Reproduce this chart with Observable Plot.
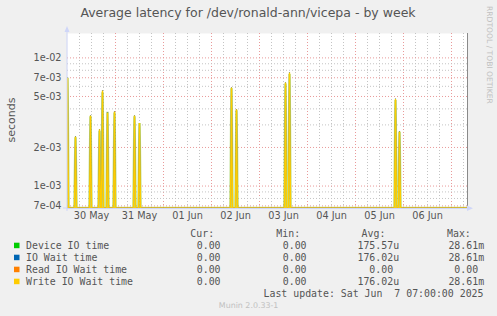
<!DOCTYPE html>
<html><head><meta charset="utf-8">
<script src="https://cdn.jsdelivr.net/npm/d3@7"></script>
<script src="https://cdn.jsdelivr.net/npm/@observablehq/plot@0.6"></script>
<style>
html,body{margin:0;padding:0;background:#f0f0f0;}
#chart{width:497px;height:316px;}
</style></head><body><div id="chart"></div>
<script>
// ---- data ----
const startTime = Date.UTC(2025, 4, 30, 0, 0);
const endTime = Date.UTC(2025, 5, 7, 8, 0);
const spikeHours = [0, 4, 11.5, 16, 17.5, 20, 23.5, 33.5, 36, 82, 84.5, 109, 111, 164, 166];
const deviceIO  = [7.0e-3, 2.40e-3, 3.50e-3, 2.70e-3, 5.40e-3, 3.80e-3, 3.75e-3, 3.50e-3, 3.10e-3, 5.80e-3, 3.90e-3, 6.30e-3, 7.50e-3, 4.70e-3, 2.65e-3];
const ioWait    = [7.0e-3, 2.44e-3, 3.55e-3, 2.77e-3, 5.56e-3, 3.75e-3, 3.82e-3, 3.55e-3, 3.10e-3, 5.87e-3, 3.98e-3, 6.42e-3, 7.69e-3, 4.80e-3, 2.67e-3];
const readWait  = [0, 0, 0, 0, 0, 0, 0, 0, 0, 0, 0, 0, 0, 0, 0];
const writeWait = [7.0e-3, 2.44e-3, 3.55e-3, 2.77e-3, 5.56e-3, 3.75e-3, 3.82e-3, 3.55e-3, 3.10e-3, 5.87e-3, 3.98e-3, 6.42e-3, 7.69e-3, 4.80e-3, 2.67e-3];

const majorY = [7e-4, 1e-3, 2e-3, 5e-3, 7e-3, 1e-2];
const minorY = [8e-4, 9e-4, 3e-3, 4e-3, 6e-3, 8e-3, 9e-3];

const legendNames  = ["Device IO time", "IO Wait time", "Read IO Wait time", "Write IO Wait time"];
const legendColors = ["#00cc00", "#0066b3", "#ff8000", "#ffcc00"];
const curVals = ["0.00 ", "0.00 ", "0.00 ", "0.00 "];
const minVals = ["0.00 ", "0.00 ", "0.00 ", "0.00 "];
const avgVals = ["175.57u", "176.02u", "0.00 ", "176.02u"];
const maxVals = ["28.61m", "28.61m", "0.00 ", "28.61m"];
const headers = ["Cur:", "Min:", "Avg:", "Max:"];
const titleText = "Average latency for /dev/ronald-ann/vicepa - by week";
const lastUpdate = "Last update: Sat Jun  7 07:00:00 2025";

// ---- build ----
const HOUR = 3600e3;
const yMin = 6.68e-4, yMax = 1.55e-2, floorV = 6.72e-4;
function toPts(vals) {
  const pts = [{t: new Date(startTime - 2 * HOUR), v: 0}];
  spikeHours.forEach((h, i) => {
    pts.push({t: new Date(startTime + (h - 0.5) * HOUR), v: 0});
    pts.push({t: new Date(startTime + h * HOUR), v: vals[i]});
    pts.push({t: new Date(startTime + (h + 0.5) * HOUR), v: 0});
  });
  pts.push({t: new Date(endTime + 2 * HOUR), v: 0});
  return pts;
}
const yAcc = d => Math.max(d.v, floorV);
const fmtExp = v => { const [m, e] = v.toExponential(0).split("e"); const n = +e; return m + "e" + (n < 0 ? "-" : "+") + String(Math.abs(n)).padStart(2, "0"); };

const minorX = d3.utcHour.every(6).range(new Date(startTime + 1), new Date(endTime)).filter(d => d.getUTCHours() !== 0);
const majorX = d3.utcDay.range(new Date(startTime + 1), new Date(endTime));
const labelX = d3.utcDay.range(new Date(startTime), new Date(endTime)).map(d => new Date(+d + 12 * HOUR)).filter(d => +d < endTime);

const lineOpts = (stroke, w, op) => ({x: "t", y: yAcc, stroke, strokeWidth: w, strokeOpacity: op, clip: true, strokeLinejoin: "miter", strokeMiterlimit: 1});

const svg = Plot.plot({
  width: 497, height: 316,
  marginTop: 33, marginBottom: 108, marginLeft: 67, marginRight: 30,
  style: {background: "transparent", fontFamily: "'DejaVu Sans'", fontSize: "9.7px", color: "#555", overflow: "visible"},
  x: {type: "utc", domain: [new Date(startTime), new Date(endTime)]},
  y: {type: "log", domain: [yMin, yMax]},
  marks: [
    Plot.frame({fill: "white"}),
    Plot.ruleX(minorX, {stroke: "#c4c4c4", strokeDasharray: "1,2"}),
    Plot.ruleX(majorX, {stroke: "#e99a9a", strokeDasharray: "1,2"}),
    Plot.ruleY(minorY, {stroke: "#c4c4c4", strokeDasharray: "1,2"}),
    Plot.ruleY(majorY, {stroke: "#e99a9a", strokeDasharray: "1,2"}),
    Plot.ruleY([yMin], {stroke: "#CFD6F8"}),
    Plot.ruleX([new Date(endTime)], {stroke: "#8a8a8a"}),
    Plot.line(toPts(deviceIO), lineOpts("#8cc63c", 2.6, 0.6)),
    Plot.line(toPts(ioWait), lineOpts("#0066b3", 1, 1)),
    Plot.line(toPts(readWait), lineOpts("#ff8000", 1, 1)),
    Plot.line(toPts(writeWait), lineOpts("#ffcc00", 1.4, 1)),
    Plot.axisX({ticks: labelX, tickFormat: d3.utcFormat("%d %b"), tickSize: 0, tickPadding: 4, label: null}),
    Plot.axisY({ticks: majorY, tickFormat: fmtExp, tickSize: 0, tickPadding: 6, label: null})
  ]
});
document.getElementById("chart").appendChild(svg);

const s = d3.select(svg);
const axisColor = "#CFD6F8";
// axis lines & arrows
s.append("line").attr("x1", 67).attr("x2", 67).attr("y1", 211).attr("y2", 28).attr("stroke", axisColor);
s.append("path").attr("d", "M64.5,32L69.5,32L67,26Z").attr("fill", axisColor);
s.append("line").attr("x1", 63).attr("x2", 67).attr("y1", 208).attr("y2", 208).attr("stroke", axisColor);
s.append("line").attr("x1", 467).attr("x2", 470).attr("y1", 208).attr("y2", 208).attr("stroke", axisColor);
s.append("path").attr("d", "M467,205.5L467,211L473,208.3Z").attr("fill", axisColor);

// title
s.append("text").attr("x", 248).attr("y", 16.8).attr("text-anchor", "middle")
  .attr("font-family", "'DejaVu Sans'").attr("font-size", "12.5px").attr("fill", "#555").text(titleText);
// y label
s.append("text").attr("transform", "translate(15,120) rotate(-90)").attr("text-anchor", "middle")
  .attr("font-family", "'DejaVu Sans'").attr("font-size", "11px").attr("fill", "#555").text("seconds");
// watermark
s.append("text").attr("transform", "translate(487,6) rotate(90)").attr("text-anchor", "start")
  .attr("font-family", "'DejaVu Sans'").attr("font-size", "7.6px").attr("fill", "#c0c0c0").text("RRDTOOL / TOBI OETIKER");

// legend
const lg = s.append("g").attr("font-family", "'DejaVu Sans Mono'").attr("font-size", "9.9px").attr("fill", "#555")
  .attr("text-anchor", "start").attr("xml:space", "preserve").style("white-space", "pre");
const headerX = [190.3, 276.3, 361.6, 447];
headers.forEach((h, i) => lg.append("text").attr("x", headerX[i]).attr("y", 237.2).attr("text-anchor", "start").text(h));
const colEnds = [226.5, 312.5, 399.1, 484.1];
legendNames.forEach((n, i) => {
  const y = 249.2 + i * 12;
  lg.append("rect").attr("x", 14).attr("y", y - 6.5).attr("width", 5.5).attr("height", 5.5).attr("fill", legendColors[i]);
  lg.append("text").attr("x", 26).attr("y", y).attr("text-anchor", "start").text(n);
  [curVals, minVals, avgVals, maxVals].forEach((arr, j) => {
    lg.append("text").attr("x", colEnds[j]).attr("y", y).attr("text-anchor", "end").text(arr[i]);
  });
});
lg.append("text").attr("x", 483.5).attr("y", 296.8).attr("text-anchor", "end").text(lastUpdate);
s.append("text").attr("x", 248.6).attr("y", 307.8).attr("text-anchor", "middle")
  .attr("font-family", "'DejaVu Sans'").attr("font-size", "7.9px").attr("fill", "#c0c0c0").text("Munin 2.0.33-1");
</script>
</body></html>
